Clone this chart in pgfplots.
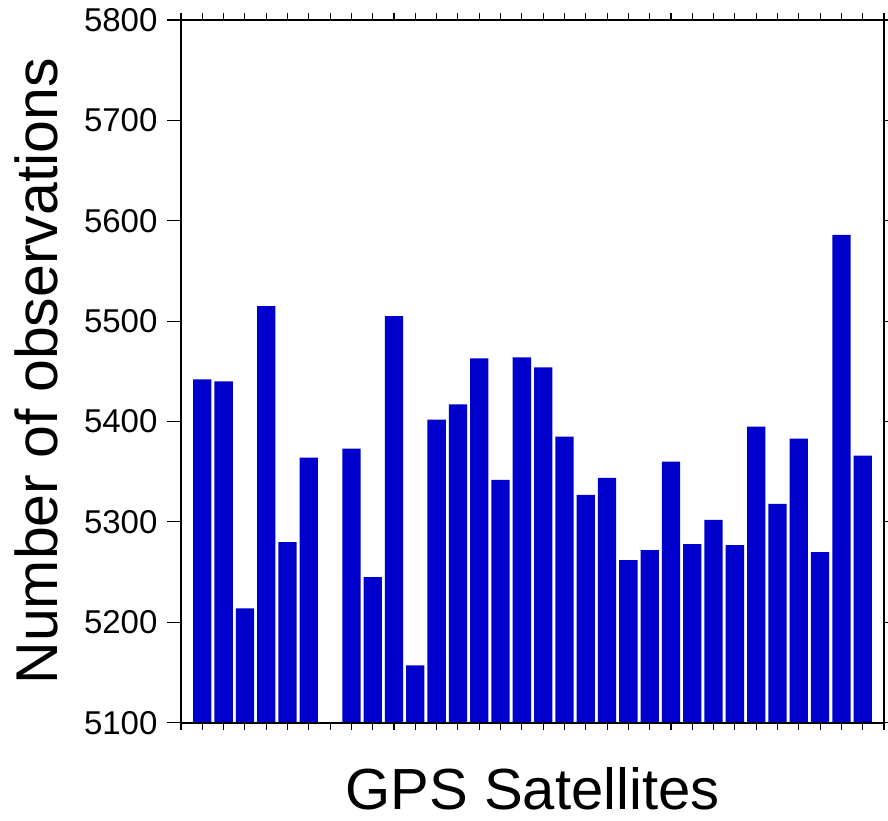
\documentclass[border=0pt]{standalone}
\usepackage{fontspec}
\setmainfont{Liberation Sans}
\usepackage{pgfplots}
\pgfplotsset{compat=1.18}
\usetikzlibrary{calc}
\definecolor{barblue}{RGB}{0,0,204}
\begin{document}
\begin{tikzpicture}
\pgfplotsset{
  common/.style={
    width=703pt, height=702.7pt, scale only axis,
    xmin=0, xmax=33, ymin=5100, ymax=5800,
    axis line style={line width=2.3pt},
    tick align=outside,
    tick style={line width=1.1pt, black},
    /pgf/number format/assume math mode=true,
    /pgf/number format/1000 sep={},
  }
}
% main axis: bars, y ticks on the left, labels
\begin{axis}[common, name=main,
  ytick={5100,5200,...,5800},
  ytick pos=left,
  major tick length=14pt,
  xmajorticks=false,
  yticklabel style={font=\fontsize{33}{40}\selectfont, xshift=-6pt},
  ylabel={Number of observations},
  xlabel={GPS Satellites},
  every axis y label/.style={at={(axis description cs:-0.175,0.5)}, rotate=90, anchor=base, inner sep=0pt, font=\fontsize{59}{66}\selectfont},
  every axis x label/.style={at={(axis description cs:0.5,-0.124)}, anchor=base, inner sep=0pt, font=\fontsize{58}{66}\selectfont},
]
\addplot[ybar, bar width=18.3pt, fill=barblue, draw=none] coordinates {
(1,5442) (2,5440) (3,5214) (4,5515) (5,5280) (6,5364)
(8,5373) (9,5245) (10,5505) (11,5157) (12,5402) (13,5417)
(14,5463) (15,5342) (16,5464) (17,5454) (18,5385) (19,5327)
(20,5344) (21,5262) (22,5272) (23,5360) (24,5278) (25,5302)
(26,5277) (27,5395) (28,5318) (29,5383) (30,5270) (31,5586)
(32,5366)
};
\end{axis}
% x ticks on top and bottom
\begin{axis}[common,
  xtick={0,1,...,33}, xticklabels={},
  xtick pos=both,
  ymajorticks=false,
  major tick length=7pt,
]
\end{axis}
% y ticks on the right
\begin{axis}[common,
  ytick={5100,5200,...,5800}, yticklabels={},
  ytick pos=right,
  xmajorticks=false,
  major tick length=4pt,
]
\end{axis}
\pgfresetboundingbox
\path[use as bounding box] ($(main.south west)+(-181pt,722.7pt)$) rectangle ($(main.south west)+(707pt,-97.3pt)$);
\end{tikzpicture}
\end{document}
